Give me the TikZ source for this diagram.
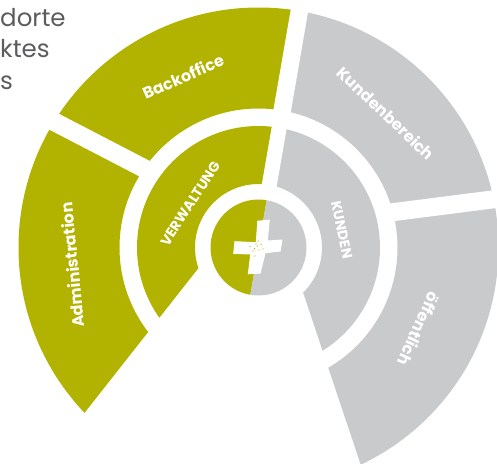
\documentclass[tikz,border=0pt]{standalone}
\usepackage{fontspec}
\setmainfont{Poppins}
\usetikzlibrary{calc}
\definecolor{brandgreen}{RGB}{178,178,0}
\definecolor{brandgrey}{RGB}{201,202,204}
\definecolor{textgrey}{RGB}{92,92,94}
\tikzset{
  segtext/.style={text=white, font=\bfseries\fontsize{16}{16}\selectfont, inner sep=0pt},
  captext/.style={text=white, font=\bfseries\fontsize{14}{14}\selectfont, inner sep=0pt},
  toptext/.style={text=textgrey, font=\fontsize{24.5}{24.5}\selectfont, inner sep=0pt, anchor=base west},
  gapline/.style={draw=white, line cap=butt},
  speck/.style={fill=brandgreen}
}
\begin{document}
\begin{tikzpicture}[x=1pt,y=-1pt]
\useasboundingbox (0,0) rectangle (497,463);
\clip (0,0) rectangle (497,463);
\coordinate (C) at (258.5,247.5);
% green rings
\begin{scope}
  \clip (309.8,-48) -- (271,175.9) -- (23.4,490.5) -- (-50,490.5) -- (-50,-48) -- cycle;
  \fill[brandgreen, even odd rule] (C) circle[radius=240] (C) circle[radius=139]
       (C) circle[radius=121.5] (C) circle[radius=63.5];
\end{scope}
% grey rings
\begin{scope}
  \clip (309.8,-48) -- (268.6,189.5) -- (375.9,510.1) -- (550,510) -- (550,-48) -- cycle;
  \fill[brandgrey, even odd rule] (C) circle[radius=240] (C) circle[radius=139]
       (C) circle[radius=121.5] (C) circle[radius=63.5];
\end{scope}
% gaps
\draw[gapline, line width=15pt] ($(C)+(-80.2:52)$) -- ($(C)+(-80.2:131)$);
\draw[gapline, line width=17.5pt] ($(C)+(-80.2:129)$) -- ($(C)+(-80.2:260)$);
\draw[gapline, line width=18.5pt] (26.7,107.5) -- (153.9,173.5);
\draw[gapline, line width=18pt] (382.6,213.5) -- (510,197.2);
% centre disc
\fill[brandgreen] (C) -- ($(C)+(99.8:48)$) arc[start angle=99.8, end angle=279.8, radius=48] -- cycle;
\fill[brandgrey] (C) -- ($(C)+(-80.2:48)$) arc[start angle=-80.2, end angle=99.8, radius=48] -- cycle;
% cross
\fill[white] (257.3,220.7) -- (269.8,219.7) -- (267.8,240.5) -- (282.5,239.5) -- (280.5,251.5)
   -- (265.5,253.2) -- (260.5,273.5) -- (247.8,274.3) -- (250.2,254.5) -- (233.2,253.8)
   -- (234.5,241.2) -- (255.8,242.2) -- cycle;
\foreach \p in {(256,244),(254.5,248.5),(259,250),(257.5,246),(253,251),(261,244.5),(250,246.5),(263,249),(258,241),(255,256)}
  \fill[speck] \p circle[radius=0.7];
% labels
\node[segtext, rotate=23.8] (backoffice) at ($(C)+(-113.8:187)$) {Backoffice};
\node[segtext, rotate=95.4] (admin) at ($(C)+(174.6:187.3)$) {Administration};
\node[segtext, rotate=-43.5] (kundenbereich) at ($(C)+(-46.5:185.3)$) {Kundenbereich};
\node[segtext, rotate=-115] (oeffentlich) at ($(C)+(27:180)$) {öffentlich};
\node[captext, rotate=57.2] (verwaltung) at ($(C)+(-147.2:80.8)$) {VERWALTUNG};
\node[captext, rotate=-78] (kunden) at ($(C)+(-12:85)$) {KUNDEN};
% cropped heading text
\node[toptext] (t1) at (0,26) {dorte};
\node[toptext] (t2) at (0,57.5) {ktes};
\node[toptext] (t3) at (0,89.5) {s};
\end{tikzpicture}
\end{document}
